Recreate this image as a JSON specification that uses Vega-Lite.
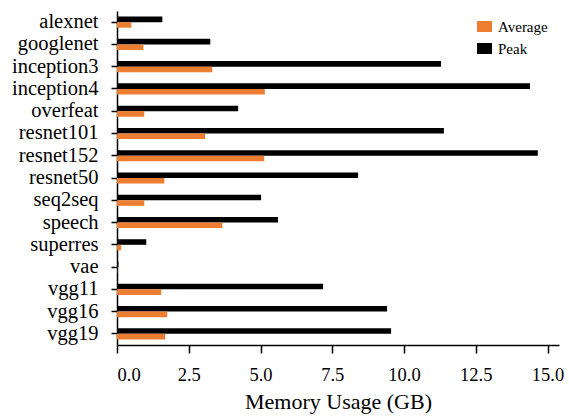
{
  "$schema": "https://vega.github.io/schema/vega-lite/v6.json",
  "autosize": {"type": "none"},
  "padding": {"left": 117, "top": 11, "right": 10, "bottom": 74},
  "width": 442,
  "height": 334,
  "config": {
    "font": "Liberation Serif",
    "view": {"stroke": null},
    "axis": {"grid": false, "domainColor": "#000000", "tickColor": "#000000", "labelColor": "#000000", "titleColor": "#000000", "labelFont": "Liberation Serif", "titleFont": "Liberation Serif"}
  },
  "data": {
    "values": [
      {"model": "alexnet", "series": "Peak", "value": 1.58},
      {"model": "alexnet", "series": "Average", "value": 0.5},
      {"model": "googlenet", "series": "Peak", "value": 3.25},
      {"model": "googlenet", "series": "Average", "value": 0.92},
      {"model": "inception3", "series": "Peak", "value": 11.29},
      {"model": "inception3", "series": "Average", "value": 3.32},
      {"model": "inception4", "series": "Peak", "value": 14.39},
      {"model": "inception4", "series": "Average", "value": 5.15},
      {"model": "overfeat", "series": "Peak", "value": 4.22},
      {"model": "overfeat", "series": "Average", "value": 0.95},
      {"model": "resnet101", "series": "Peak", "value": 11.39},
      {"model": "resnet101", "series": "Average", "value": 3.07},
      {"model": "resnet152", "series": "Peak", "value": 14.66},
      {"model": "resnet152", "series": "Average", "value": 5.13},
      {"model": "resnet50", "series": "Peak", "value": 8.4},
      {"model": "resnet50", "series": "Average", "value": 1.65},
      {"model": "seq2seq", "series": "Peak", "value": 5.02},
      {"model": "seq2seq", "series": "Average", "value": 0.95},
      {"model": "speech", "series": "Peak", "value": 5.61},
      {"model": "speech", "series": "Average", "value": 3.67},
      {"model": "superres", "series": "Peak", "value": 1.02},
      {"model": "superres", "series": "Average", "value": 0.14},
      {"model": "vae", "series": "Peak", "value": 0.05},
      {"model": "vae", "series": "Average", "value": 0.01},
      {"model": "vgg11", "series": "Peak", "value": 7.18},
      {"model": "vgg11", "series": "Average", "value": 1.54},
      {"model": "vgg16", "series": "Peak", "value": 9.41},
      {"model": "vgg16", "series": "Average", "value": 1.75},
      {"model": "vgg19", "series": "Peak", "value": 9.55},
      {"model": "vgg19", "series": "Average", "value": 1.68}
    ]
  },
  "mark": {"type": "bar"},
  "encoding": {
    "y": {
      "field": "model", "type": "nominal", "sort": null, "title": null,
      "scale": {"paddingInner": 0.5, "paddingOuter": 0.25},
      "axis": {"labelFontSize": 20.5, "tickSize": 6, "labelPadding": 13, "domainWidth": 1.5, "tickWidth": 1.5}
    },
    "yOffset": {"field": "series", "type": "nominal", "sort": ["Peak", "Average"], "scale": {"paddingInner": 0, "paddingOuter": 0}},
    "x": {
      "field": "value", "type": "quantitative", "title": "Memory Usage (GB)",
      "scale": {"domain": [0, 15.4], "nice": false, "zero": true},
      "axis": {"values": [0, 2.5, 5, 7.5, 10, 12.5, 15], "format": ".1f", "labelFontSize": 18.5, "tickSize": 8, "labelPadding": 12, "titleFontSize": 22, "titleFontWeight": "normal", "titlePadding": 8, "domainWidth": 1.5, "tickWidth": 1.5}
    },
    "color": {
      "field": "series", "type": "nominal",
      "scale": {"domain": ["Average", "Peak"], "range": ["#ed7d31", "#000000"]},
      "legend": {
        "title": null, "orient": "none", "legendX": 360, "legendY": 8,
        "symbolType": "M-1,-0.73H1V0.73H-1Z", "symbolSize": 225, "symbolStrokeWidth": 0,
        "labelFontSize": 15, "labelFont": "Liberation Serif", "labelColor": "#000000", "labelOffset": 6, "rowPadding": 6, "padding": 0
      }
    }
  }
}
